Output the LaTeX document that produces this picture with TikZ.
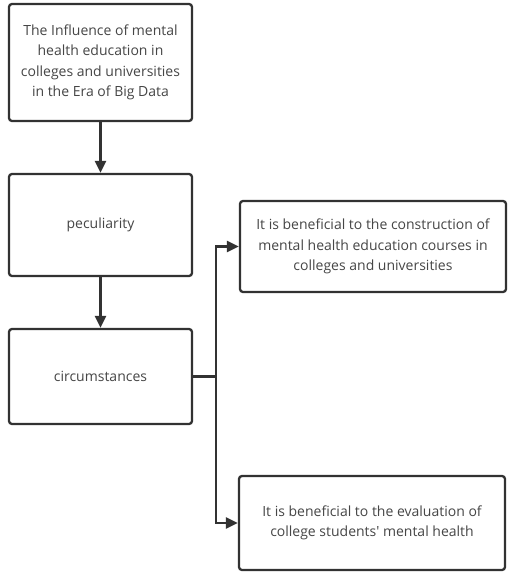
\documentclass[tikz,border=0pt]{standalone}
\usepackage{fontspec}
\setmainfont{Open Sans}
\usepackage{tikz}
\usetikzlibrary{arrows.meta, positioning, calc}
\definecolor{boxline}{RGB}{50, 50, 50}
\definecolor{boxtext}{RGB}{70, 70, 70}
\tikzset{
  flowbox/.style={draw=boxline, line width=2.3pt, rounded corners=3pt, fill=white, align=center, text=boxtext, font=\fontsize{14}{20.5}\selectfont, inner sep=2pt},
  flowarrow/.style={draw=boxline, line width=2.3pt, -{Triangle[length=12pt, width=11pt]}},
  flowline/.style={draw=boxline, line width=2.3pt}
}

\begin{document}
\begin{tikzpicture}[x=1pt, y=-1pt]
  \useasboundingbox (0, 0) rectangle (507, 573);

  % Left column
  \node[flowbox, minimum width=183pt, minimum height=117pt] (influence) at (100.5, 62.5) {
    The Influence of mental\\health education in\\colleges and universities\\in the Era of Big Data
  };
  \node[flowbox, minimum width=183pt, minimum height=102pt] (peculiar) at (100.5, 225) {peculiarity};
  \node[flowbox, minimum width=183pt, minimum height=95pt] (circum) at (100.5, 376.5) {circumstances};

  % Right column
  \node[flowbox, minimum width=266pt, minimum height=91pt] (construct) at (373, 246.5) {
    It is beneficial to the construction of\\mental health education courses in\\colleges and universities
  };
  \node[flowbox, minimum width=266pt, minimum height=94pt] (evaluate) at (372, 523) {
    It is beneficial to the evaluation of\\college students\textquotesingle{} mental health
  };

  % Connectors
  \draw[flowarrow] (influence) -- (peculiar);
  \draw[flowarrow] (peculiar) -- (circum);
  \coordinate (split) at (216, 376.5);
  \draw[flowline] (circum.east) -- (split);
  \draw[flowarrow] (split) |- (construct.west);
  \draw[flowarrow] (split) |- (evaluate.west);
\end{tikzpicture}
\end{document}
